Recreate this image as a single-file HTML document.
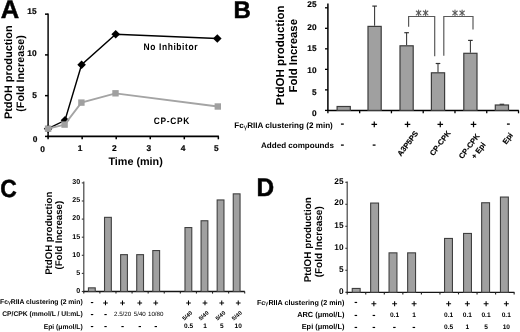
<!DOCTYPE html>
<html><head><meta charset="utf-8"><style>
html,body{margin:0;padding:0;background:#fff;}
svg{display:block;font-family:"Liberation Sans", sans-serif;font-weight:bold;text-rendering:geometricPrecision;filter:grayscale(1);}
</style></head><body>
<svg width="520" height="332" viewBox="0 0 520 332">
<rect width="520" height="332" fill="#fff"/>
<text x="0.69" y="18.35" font-size="25.5" stroke="#000" stroke-width="0.5">A</text>
<text transform="translate(11.80,72.20) rotate(-90)" font-size="10.9" text-anchor="middle">PtdOH production</text>
<text transform="translate(24.00,73.50) rotate(-90)" font-size="10.75" text-anchor="middle">(Fold Increase)</text>
<line x1="48.10" y1="13.60" x2="48.10" y2="137.20" stroke="#000" stroke-width="1.45"/>
<line x1="47.30" y1="136.40" x2="218.90" y2="136.40" stroke="#000" stroke-width="1.7"/>
<line x1="45.00" y1="136.40" x2="48.10" y2="136.40" stroke="#000" stroke-width="1.5"/>
<line x1="45.00" y1="95.65" x2="48.10" y2="95.65" stroke="#000" stroke-width="1.5"/>
<line x1="45.00" y1="54.90" x2="48.10" y2="54.90" stroke="#000" stroke-width="1.5"/>
<line x1="45.00" y1="14.15" x2="48.10" y2="14.15" stroke="#000" stroke-width="1.5"/>
<line x1="48.10" y1="136.40" x2="48.10" y2="139.30" stroke="#000" stroke-width="1.5"/>
<line x1="82.15" y1="136.40" x2="82.15" y2="139.30" stroke="#000" stroke-width="1.5"/>
<line x1="116.20" y1="136.40" x2="116.20" y2="139.30" stroke="#000" stroke-width="1.5"/>
<line x1="150.25" y1="136.40" x2="150.25" y2="139.30" stroke="#000" stroke-width="1.5"/>
<line x1="184.30" y1="136.40" x2="184.30" y2="139.30" stroke="#000" stroke-width="1.5"/>
<line x1="218.35" y1="136.40" x2="218.35" y2="139.30" stroke="#000" stroke-width="1.5"/>
<text x="36.60" y="13.50" font-size="8.4" text-anchor="end" stroke="#000" stroke-width="0.2">15</text>
<text x="36.70" y="56.30" font-size="8.4" text-anchor="end" stroke="#000" stroke-width="0.2">10</text>
<text x="37.00" y="98.20" font-size="8.4" text-anchor="end" stroke="#000" stroke-width="0.2">5</text>
<text x="37.40" y="141.60" font-size="8.4" text-anchor="end" stroke="#000" stroke-width="0.2">0</text>
<text x="42.50" y="152.20" font-size="8.4" text-anchor="middle" stroke="#000" stroke-width="0.2">0</text>
<text x="80.10" y="150.90" font-size="8.4" text-anchor="middle" stroke="#000" stroke-width="0.2">1</text>
<text x="114.30" y="150.80" font-size="8.4" text-anchor="middle" stroke="#000" stroke-width="0.2">2</text>
<text x="148.90" y="150.80" font-size="8.4" text-anchor="middle" stroke="#000" stroke-width="0.2">3</text>
<text x="183.10" y="150.80" font-size="8.4" text-anchor="middle" stroke="#000" stroke-width="0.2">4</text>
<text x="216.40" y="150.80" font-size="8.4" text-anchor="middle" stroke="#000" stroke-width="0.2">5</text>
<text x="108.40" y="164.60" font-size="10.8" textLength="54.4" lengthAdjust="spacingAndGlyphs">Time (min)</text>
<polyline points="48.1,128.7 65,120.3 81.6,64.7 115.7,34.2 217.3,38.5" fill="none" stroke="#000" stroke-width="1.4"/>
<polygon points="48.1,124.39999999999999 52.4,128.7 48.1,133.0 43.800000000000004,128.7" fill="#000"/>
<polygon points="65,116.0 69.3,120.3 65,124.6 60.7,120.3" fill="#000"/>
<polygon points="81.6,60.400000000000006 85.89999999999999,64.7 81.6,69.0 77.3,64.7" fill="#000"/>
<polygon points="115.7,29.900000000000002 120.0,34.2 115.7,38.5 111.4,34.2" fill="#000"/>
<polygon points="217.3,34.2 221.60000000000002,38.5 217.3,42.8 213.0,38.5" fill="#000"/>
<polyline points="48.1,128.7 64.6,124.6 81.4,102.6 115.5,93.3 217.8,106.5" fill="none" stroke="#a4a4a4" stroke-width="1.8"/>
<rect x="44.90" y="125.50" width="6.4" height="6.4" fill="#a0a0a0"/>
<rect x="61.40" y="121.40" width="6.4" height="6.4" fill="#a0a0a0"/>
<rect x="78.20" y="99.40" width="6.4" height="6.4" fill="#a0a0a0"/>
<rect x="112.30" y="90.10" width="6.4" height="6.4" fill="#a0a0a0"/>
<rect x="214.60" y="103.30" width="6.4" height="6.4" fill="#a0a0a0"/>
<text transform="translate(143.6,50.4) scale(0.88,1)" font-size="9.6" textLength="61.25" lengthAdjust="spacing">No Inhibitor</text>
<text transform="translate(153.7,123.6) scale(0.9,1)" font-size="9.3" textLength="39.44" lengthAdjust="spacing">CP-CPK</text>
<text x="233.57" y="17.65" font-size="24" stroke="#000" stroke-width="0.5">B</text>
<text transform="translate(284.00,55.30) rotate(-90)" font-size="11.6" text-anchor="middle">PtdOH production</text>
<text transform="translate(297.00,55.70) rotate(-90)" font-size="11.4" text-anchor="middle">Fold Increase</text>
<line x1="327.90" y1="3.40" x2="327.90" y2="111.10" stroke="#000" stroke-width="1.5"/>
<line x1="327.20" y1="110.40" x2="518.80" y2="110.40" stroke="#000" stroke-width="1.5"/>
<line x1="325.00" y1="110.40" x2="327.90" y2="110.40" stroke="#000" stroke-width="1.3"/>
<line x1="325.00" y1="89.88" x2="327.90" y2="89.88" stroke="#000" stroke-width="1.3"/>
<line x1="325.00" y1="69.36" x2="327.90" y2="69.36" stroke="#000" stroke-width="1.3"/>
<line x1="325.00" y1="48.84" x2="327.90" y2="48.84" stroke="#000" stroke-width="1.3"/>
<line x1="325.00" y1="28.32" x2="327.90" y2="28.32" stroke="#000" stroke-width="1.3"/>
<line x1="325.00" y1="7.80" x2="327.90" y2="7.80" stroke="#000" stroke-width="1.3"/>
<line x1="327.90" y1="110.40" x2="327.90" y2="113.30" stroke="#000" stroke-width="1.3"/>
<line x1="359.67" y1="110.40" x2="359.67" y2="113.30" stroke="#000" stroke-width="1.3"/>
<line x1="391.44" y1="110.40" x2="391.44" y2="113.30" stroke="#000" stroke-width="1.3"/>
<line x1="423.21" y1="110.40" x2="423.21" y2="113.30" stroke="#000" stroke-width="1.3"/>
<line x1="454.98" y1="110.40" x2="454.98" y2="113.30" stroke="#000" stroke-width="1.3"/>
<line x1="486.75" y1="110.40" x2="486.75" y2="113.30" stroke="#000" stroke-width="1.3"/>
<line x1="518.52" y1="110.40" x2="518.52" y2="113.30" stroke="#000" stroke-width="1.3"/>
<text x="316.50" y="7.10" font-size="8.3" text-anchor="end" stroke="#000" stroke-width="0.15">25</text>
<text x="316.50" y="29.60" font-size="8.3" text-anchor="end" stroke="#000" stroke-width="0.15">20</text>
<text x="316.50" y="51.20" font-size="8.3" text-anchor="end" stroke="#000" stroke-width="0.15">15</text>
<text x="316.50" y="72.60" font-size="8.3" text-anchor="end" stroke="#000" stroke-width="0.15">10</text>
<text x="316.50" y="94.70" font-size="8.3" text-anchor="end" stroke="#000" stroke-width="0.15">5</text>
<text x="316.50" y="115.90" font-size="8.3" text-anchor="end" stroke="#000" stroke-width="0.15">0</text>
<rect x="337.10" y="106.50" width="13.20" height="3.90" fill="#a0a0a0" stroke="#3c3c3c" stroke-width="1.2"/>
<line x1="374.60" y1="25.80" x2="374.60" y2="6.10" stroke="#333" stroke-width="1.05"/>
<line x1="372.30" y1="6.10" x2="376.90" y2="6.10" stroke="#333" stroke-width="1.2"/>
<rect x="368.00" y="26.40" width="13.20" height="84.00" fill="#a0a0a0" stroke="#3c3c3c" stroke-width="1.2"/>
<line x1="406.60" y1="45.20" x2="406.60" y2="32.70" stroke="#333" stroke-width="1.05"/>
<line x1="404.30" y1="32.70" x2="408.90" y2="32.70" stroke="#333" stroke-width="1.2"/>
<rect x="400.00" y="45.80" width="13.20" height="64.60" fill="#a0a0a0" stroke="#3c3c3c" stroke-width="1.2"/>
<line x1="438.00" y1="72.20" x2="438.00" y2="63.50" stroke="#333" stroke-width="1.05"/>
<line x1="435.70" y1="63.50" x2="440.30" y2="63.50" stroke="#333" stroke-width="1.2"/>
<rect x="431.40" y="72.80" width="13.20" height="37.60" fill="#a0a0a0" stroke="#3c3c3c" stroke-width="1.2"/>
<line x1="470.40" y1="52.70" x2="470.40" y2="40.40" stroke="#333" stroke-width="1.05"/>
<line x1="468.10" y1="40.40" x2="472.70" y2="40.40" stroke="#333" stroke-width="1.2"/>
<rect x="463.80" y="53.30" width="13.20" height="57.10" fill="#a0a0a0" stroke="#3c3c3c" stroke-width="1.2"/>
<line x1="501.90" y1="104.40" x2="501.90" y2="104.30" stroke="#333" stroke-width="1.05"/>
<line x1="499.60" y1="104.30" x2="504.20" y2="104.30" stroke="#333" stroke-width="1.2"/>
<rect x="495.30" y="105.00" width="13.20" height="5.40" fill="#a0a0a0" stroke="#3c3c3c" stroke-width="1.2"/>
<polyline points="408.6,26.7 408.6,16.5 434.7,16.5 434.7,56.2" fill="none" stroke="#5a5a5a" stroke-width="1.2"/>
<polyline points="443.8,55.8 443.8,16.5 473.0,16.5 473.0,29.4" fill="none" stroke="#5a5a5a" stroke-width="1.2"/>
<g stroke="#5c5c5c" stroke-width="1.1" stroke-linecap="round"><line x1="418.6" y1="10.100000000000001" x2="418.6" y2="15.7"/><line x1="416.30" y1="11.00" x2="420.90" y2="14.80"/><line x1="416.30" y1="14.80" x2="420.90" y2="11.00"/></g>
<g stroke="#5c5c5c" stroke-width="1.1" stroke-linecap="round"><line x1="425.6" y1="10.100000000000001" x2="425.6" y2="15.7"/><line x1="423.30" y1="11.00" x2="427.90" y2="14.80"/><line x1="423.30" y1="14.80" x2="427.90" y2="11.00"/></g>
<g stroke="#5c5c5c" stroke-width="1.1" stroke-linecap="round"><line x1="455.0" y1="10.100000000000001" x2="455.0" y2="15.7"/><line x1="452.70" y1="11.00" x2="457.30" y2="14.80"/><line x1="452.70" y1="14.80" x2="457.30" y2="11.00"/></g>
<g stroke="#5c5c5c" stroke-width="1.1" stroke-linecap="round"><line x1="462.1" y1="10.100000000000001" x2="462.1" y2="15.7"/><line x1="459.80" y1="11.00" x2="464.40" y2="14.80"/><line x1="459.80" y1="14.80" x2="464.40" y2="11.00"/></g>
<text x="234.30" y="127.70" font-size="8.1">Fc<tspan font-size="6.88" font-weight="normal" dy="0.9">γ</tspan><tspan dy="-0.9">RIIA clustering (2 min)</tspan></text>
<text x="333.90" y="147.60" font-size="8.05" text-anchor="end">Added compounds</text>
<text x="342.40" y="126.51" font-size="11.2" text-anchor="middle">-</text>
<text x="374.20" y="128.35" font-size="11.2" text-anchor="middle">+</text>
<text x="407.60" y="128.35" font-size="11.2" text-anchor="middle">+</text>
<text x="440.20" y="128.35" font-size="11.2" text-anchor="middle">+</text>
<text x="473.60" y="128.35" font-size="11.2" text-anchor="middle">+</text>
<text x="508.40" y="126.51" font-size="11.2" text-anchor="middle">-</text>
<text x="342.30" y="148.11" font-size="11.2" text-anchor="middle">-</text>
<text x="374.20" y="148.11" font-size="11.2" text-anchor="middle">-</text>
<text transform="translate(418.6,133.4) rotate(-53)" font-size="7.6" text-anchor="end" stroke="#000" stroke-width="0.15">A3P5PS</text>
<text transform="translate(451.0,133.0) rotate(-53)" font-size="7.6" text-anchor="end" stroke="#000" stroke-width="0.15">CP-CPK</text>
<text transform="translate(513.4,135.2) rotate(-53)" font-size="7.6" text-anchor="end" stroke="#000" stroke-width="0.15">Epi</text>
<text transform="translate(471.33,147.63) rotate(-53)" font-size="7.6" text-anchor="middle" stroke="#000" stroke-width="0.15">CP-CPK</text>
<text transform="translate(480.48,152.17) rotate(-53)" font-size="7.6" text-anchor="middle" stroke="#000" stroke-width="0.15">+ Epi</text>
<text x="0.23" y="196.50" font-size="24.8" textLength="16.56" lengthAdjust="spacingAndGlyphs" stroke="#000" stroke-width="0.5">C</text>
<text transform="translate(51.80,233.30) rotate(-90)" font-size="9.66" text-anchor="middle">PtdOH production</text>
<text transform="translate(62.00,235.20) rotate(-90)" font-size="9.69" text-anchor="middle">(Fold Increase)</text>
<line x1="83.80" y1="181.60" x2="83.80" y2="292.10" stroke="#444" stroke-width="1.2"/>
<line x1="83.20" y1="291.50" x2="244.80" y2="291.50" stroke="#151515" stroke-width="1.3"/>
<line x1="81.80" y1="291.50" x2="83.80" y2="291.50" stroke="#3a3a3a" stroke-width="1.1"/>
<line x1="81.80" y1="273.40" x2="83.80" y2="273.40" stroke="#3a3a3a" stroke-width="1.1"/>
<line x1="81.80" y1="255.30" x2="83.80" y2="255.30" stroke="#3a3a3a" stroke-width="1.1"/>
<line x1="81.80" y1="237.20" x2="83.80" y2="237.20" stroke="#3a3a3a" stroke-width="1.1"/>
<line x1="81.80" y1="219.10" x2="83.80" y2="219.10" stroke="#3a3a3a" stroke-width="1.1"/>
<line x1="81.80" y1="201.00" x2="83.80" y2="201.00" stroke="#3a3a3a" stroke-width="1.1"/>
<line x1="81.80" y1="182.90" x2="83.80" y2="182.90" stroke="#3a3a3a" stroke-width="1.1"/>
<line x1="83.80" y1="291.50" x2="83.80" y2="293.60" stroke="#222" stroke-width="1.1"/>
<line x1="99.89" y1="291.50" x2="99.89" y2="293.60" stroke="#222" stroke-width="1.1"/>
<line x1="115.98" y1="291.50" x2="115.98" y2="293.60" stroke="#222" stroke-width="1.1"/>
<line x1="132.07" y1="291.50" x2="132.07" y2="293.60" stroke="#222" stroke-width="1.1"/>
<line x1="148.16" y1="291.50" x2="148.16" y2="293.60" stroke="#222" stroke-width="1.1"/>
<line x1="164.25" y1="291.50" x2="164.25" y2="293.60" stroke="#222" stroke-width="1.1"/>
<line x1="180.34" y1="291.50" x2="180.34" y2="293.60" stroke="#222" stroke-width="1.1"/>
<line x1="196.43" y1="291.50" x2="196.43" y2="293.60" stroke="#222" stroke-width="1.1"/>
<line x1="212.52" y1="291.50" x2="212.52" y2="293.60" stroke="#222" stroke-width="1.1"/>
<line x1="228.61" y1="291.50" x2="228.61" y2="293.60" stroke="#222" stroke-width="1.1"/>
<line x1="244.70" y1="291.50" x2="244.70" y2="293.60" stroke="#222" stroke-width="1.1"/>
<text x="80.20" y="292.80" font-size="7.1" text-anchor="end">0</text>
<text x="80.20" y="274.70" font-size="7.1" text-anchor="end">5</text>
<text x="80.20" y="256.60" font-size="7.1" text-anchor="end">10</text>
<text x="80.20" y="238.50" font-size="7.1" text-anchor="end">15</text>
<text x="80.20" y="220.40" font-size="7.1" text-anchor="end">20</text>
<text x="80.20" y="202.30" font-size="7.1" text-anchor="end">25</text>
<text x="80.20" y="184.20" font-size="7.1" text-anchor="end">30</text>
<rect x="88.44" y="287.85" width="6.80" height="3.65" fill="#a0a0a0" stroke="#404040" stroke-width="1.1"/>
<rect x="104.53" y="217.35" width="6.80" height="74.15" fill="#a0a0a0" stroke="#404040" stroke-width="1.1"/>
<rect x="120.62" y="254.65" width="6.80" height="36.85" fill="#a0a0a0" stroke="#404040" stroke-width="1.1"/>
<rect x="136.72" y="254.65" width="6.80" height="36.85" fill="#a0a0a0" stroke="#404040" stroke-width="1.1"/>
<rect x="152.80" y="250.55" width="6.80" height="40.95" fill="#a0a0a0" stroke="#404040" stroke-width="1.1"/>
<rect x="184.98" y="227.55" width="6.80" height="63.95" fill="#a0a0a0" stroke="#404040" stroke-width="1.1"/>
<rect x="201.07" y="220.75" width="6.80" height="70.75" fill="#a0a0a0" stroke="#404040" stroke-width="1.1"/>
<rect x="217.16" y="199.95" width="6.80" height="91.55" fill="#a0a0a0" stroke="#404040" stroke-width="1.1"/>
<rect x="233.25" y="193.85" width="6.80" height="97.65" fill="#a0a0a0" stroke="#404040" stroke-width="1.1"/>
<text x="82.70" y="303.90" font-size="6.8" text-anchor="end">Fc<tspan font-size="5.78" font-weight="normal" dy="0.4">γ</tspan><tspan dy="-0.4">RIIA clustering (2 min)</tspan></text>
<text x="82.70" y="316.10" font-size="6.75" text-anchor="end">CP/CPK (mmol/L / UI:mL)</text>
<text x="82.70" y="328.50" font-size="6.75" text-anchor="end">Epi (μmol/L)</text>
<text x="92.10" y="304.84" font-size="9.4" text-anchor="middle">-</text>
<text x="92.10" y="317.34" font-size="9.4" text-anchor="middle">-</text>
<text x="92.10" y="329.34" font-size="9.4" text-anchor="middle">-</text>
<text x="105.60" y="305.85" font-size="9.4" text-anchor="middle">+</text>
<text x="105.60" y="317.34" font-size="9.4" text-anchor="middle">-</text>
<text x="105.60" y="329.34" font-size="9.4" text-anchor="middle">-</text>
<text x="122.60" y="305.85" font-size="9.4" text-anchor="middle">+</text>
<text x="122.60" y="315.90" font-size="6.2" font-weight="normal" text-anchor="middle">2.5/20</text>
<text x="122.60" y="329.34" font-size="9.4" text-anchor="middle">-</text>
<text x="139.80" y="305.85" font-size="9.4" text-anchor="middle">+</text>
<text x="139.80" y="315.90" font-size="6.2" font-weight="normal" text-anchor="middle">5/40</text>
<text x="139.80" y="329.34" font-size="9.4" text-anchor="middle">-</text>
<text x="155.70" y="305.85" font-size="9.4" text-anchor="middle">+</text>
<text x="155.70" y="315.90" font-size="6.2" font-weight="normal" text-anchor="middle">10/80</text>
<text x="155.70" y="329.34" font-size="9.4" text-anchor="middle">-</text>
<text x="188.60" y="305.85" font-size="9.4" text-anchor="middle">+</text>
<text transform="translate(187.20,315.6) rotate(-40)" font-size="5.7" text-anchor="middle" dy="2.0">5/40</text>
<text x="188.60" y="328.00" font-size="6.5" text-anchor="middle">0.5</text>
<text x="205.00" y="305.85" font-size="9.4" text-anchor="middle">+</text>
<text transform="translate(203.60,315.6) rotate(-40)" font-size="5.7" text-anchor="middle" dy="2.0">5/40</text>
<text x="205.00" y="328.00" font-size="6.5" text-anchor="middle">1</text>
<text x="221.80" y="305.85" font-size="9.4" text-anchor="middle">+</text>
<text transform="translate(220.40,315.6) rotate(-40)" font-size="5.7" text-anchor="middle" dy="2.0">5/40</text>
<text x="221.80" y="328.00" font-size="6.5" text-anchor="middle">5</text>
<text x="238.20" y="305.85" font-size="9.4" text-anchor="middle">+</text>
<text transform="translate(236.80,315.6) rotate(-40)" font-size="5.7" text-anchor="middle" dy="2.0">5/40</text>
<text x="238.20" y="328.00" font-size="6.5" text-anchor="middle">10</text>
<text x="256.55" y="196.05" font-size="25.5" textLength="17.64" lengthAdjust="spacingAndGlyphs" stroke="#000" stroke-width="0.5">D</text>
<text transform="translate(311.00,239.80) rotate(-90)" font-size="9.9" text-anchor="middle">PtdOH production</text>
<text transform="translate(322.20,241.80) rotate(-90)" font-size="10.0" text-anchor="middle">(Fold Increase)</text>
<line x1="347.20" y1="181.60" x2="347.20" y2="292.90" stroke="#444" stroke-width="1.2"/>
<line x1="346.60" y1="292.30" x2="514.40" y2="292.30" stroke="#151515" stroke-width="1.3"/>
<line x1="345.30" y1="292.30" x2="347.20" y2="292.30" stroke="#3a3a3a" stroke-width="1.1"/>
<line x1="345.30" y1="270.30" x2="347.20" y2="270.30" stroke="#3a3a3a" stroke-width="1.1"/>
<line x1="345.30" y1="248.30" x2="347.20" y2="248.30" stroke="#3a3a3a" stroke-width="1.1"/>
<line x1="345.30" y1="226.30" x2="347.20" y2="226.30" stroke="#3a3a3a" stroke-width="1.1"/>
<line x1="345.30" y1="204.30" x2="347.20" y2="204.30" stroke="#3a3a3a" stroke-width="1.1"/>
<line x1="345.30" y1="182.30" x2="347.20" y2="182.30" stroke="#3a3a3a" stroke-width="1.1"/>
<line x1="347.20" y1="292.30" x2="347.20" y2="294.40" stroke="#222" stroke-width="1.1"/>
<line x1="365.75" y1="292.30" x2="365.75" y2="294.40" stroke="#222" stroke-width="1.1"/>
<line x1="384.30" y1="292.30" x2="384.30" y2="294.40" stroke="#222" stroke-width="1.1"/>
<line x1="402.85" y1="292.30" x2="402.85" y2="294.40" stroke="#222" stroke-width="1.1"/>
<line x1="421.40" y1="292.30" x2="421.40" y2="294.40" stroke="#222" stroke-width="1.1"/>
<line x1="439.95" y1="292.30" x2="439.95" y2="294.40" stroke="#222" stroke-width="1.1"/>
<line x1="458.50" y1="292.30" x2="458.50" y2="294.40" stroke="#222" stroke-width="1.1"/>
<line x1="477.05" y1="292.30" x2="477.05" y2="294.40" stroke="#222" stroke-width="1.1"/>
<line x1="495.60" y1="292.30" x2="495.60" y2="294.40" stroke="#222" stroke-width="1.1"/>
<line x1="514.15" y1="292.30" x2="514.15" y2="294.40" stroke="#222" stroke-width="1.1"/>
<text x="343.50" y="184.00" font-size="8.3" text-anchor="end">25</text>
<text x="343.50" y="205.00" font-size="8.3" text-anchor="end">20</text>
<text x="343.50" y="227.60" font-size="8.3" text-anchor="end">15</text>
<text x="343.50" y="250.20" font-size="8.3" text-anchor="end">10</text>
<text x="343.50" y="272.00" font-size="8.3" text-anchor="end">5</text>
<text x="343.50" y="294.20" font-size="8.3" text-anchor="end">0</text>
<rect x="352.25" y="288.45" width="7.90" height="3.85" fill="#a0a0a0" stroke="#404040" stroke-width="1.1"/>
<rect x="370.65" y="203.05" width="7.90" height="89.25" fill="#a0a0a0" stroke="#404040" stroke-width="1.1"/>
<rect x="389.05" y="252.85" width="7.90" height="39.45" fill="#a0a0a0" stroke="#404040" stroke-width="1.1"/>
<rect x="407.65" y="252.85" width="7.90" height="39.45" fill="#a0a0a0" stroke="#404040" stroke-width="1.1"/>
<rect x="444.55" y="238.45" width="7.90" height="53.85" fill="#a0a0a0" stroke="#404040" stroke-width="1.1"/>
<rect x="463.55" y="233.45" width="7.90" height="58.85" fill="#a0a0a0" stroke="#404040" stroke-width="1.1"/>
<rect x="481.65" y="202.75" width="7.90" height="89.55" fill="#a0a0a0" stroke="#404040" stroke-width="1.1"/>
<rect x="500.45" y="197.05" width="7.90" height="95.25" fill="#a0a0a0" stroke="#404040" stroke-width="1.1"/>
<text x="344.40" y="304.70" font-size="7.2" text-anchor="end">Fc<tspan font-size="6.12" font-weight="normal" dy="0.4">γ</tspan><tspan dy="-0.4">RIIA clustering (2 min)</tspan></text>
<text x="344.40" y="317.00" font-size="7.4" text-anchor="end">ARC (μmol/L)</text>
<text x="344.40" y="328.60" font-size="7.4" text-anchor="end">Epi (μmol/L)</text>
<text x="355.90" y="305.15" font-size="9.8" text-anchor="middle">-</text>
<text x="355.90" y="317.95" font-size="9.8" text-anchor="middle">-</text>
<text x="355.90" y="330.15" font-size="9.8" text-anchor="middle">-</text>
<text x="373.90" y="307.28" font-size="9.8" text-anchor="middle">+</text>
<text x="373.90" y="317.95" font-size="9.8" text-anchor="middle">-</text>
<text x="373.90" y="330.15" font-size="9.8" text-anchor="middle">-</text>
<text x="394.50" y="307.28" font-size="9.8" text-anchor="middle">+</text>
<text x="394.50" y="317.00" font-size="6.6" text-anchor="middle">0.1</text>
<text x="394.50" y="330.15" font-size="9.8" text-anchor="middle">-</text>
<text x="414.00" y="307.28" font-size="9.8" text-anchor="middle">+</text>
<text x="414.00" y="317.00" font-size="6.6" text-anchor="middle">1</text>
<text x="414.00" y="330.15" font-size="9.8" text-anchor="middle">-</text>
<text x="448.70" y="307.28" font-size="9.8" text-anchor="middle">+</text>
<text x="448.70" y="317.00" font-size="6.6" text-anchor="middle">0.1</text>
<text x="448.70" y="328.80" font-size="6.6" text-anchor="middle">0.5</text>
<text x="467.40" y="307.28" font-size="9.8" text-anchor="middle">+</text>
<text x="467.40" y="317.00" font-size="6.6" text-anchor="middle">0.1</text>
<text x="467.40" y="328.80" font-size="6.6" text-anchor="middle">1</text>
<text x="486.00" y="307.28" font-size="9.8" text-anchor="middle">+</text>
<text x="486.00" y="317.00" font-size="6.6" text-anchor="middle">0.1</text>
<text x="486.00" y="328.80" font-size="6.6" text-anchor="middle">5</text>
<text x="506.30" y="307.28" font-size="9.8" text-anchor="middle">+</text>
<text x="506.30" y="317.00" font-size="6.6" text-anchor="middle">0.1</text>
<text x="506.30" y="328.80" font-size="6.6" text-anchor="middle">10</text>
</svg>
</body></html>
